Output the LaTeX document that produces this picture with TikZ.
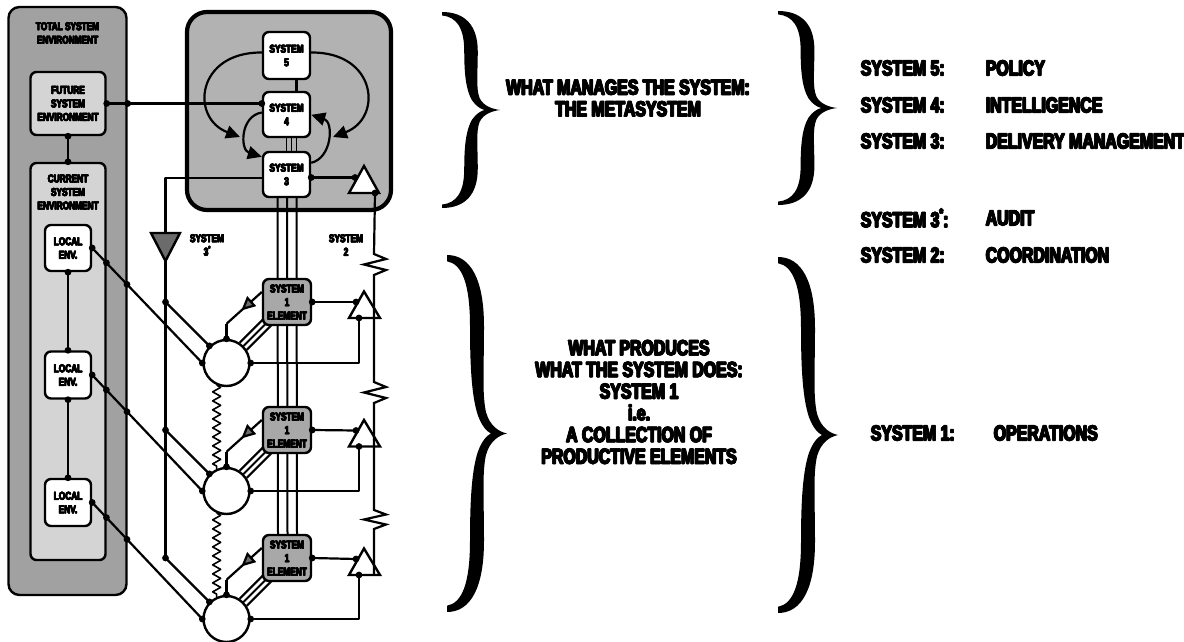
\documentclass[tikz,border=0pt]{standalone}
\usepackage{fontspec}
\newfontfamily\heavy{Liberation Sans}[FakeStretch=0.74,BoldFeatures={FakeBold=2.5}]
\usetikzlibrary{arrows.meta,calc,decorations.pathmorphing,decorations.markings}
\definecolor{envdark}{gray}{0.63}
\definecolor{envlight}{gray}{0.83}
\definecolor{metafill}{gray}{0.70}
\definecolor{opfill}{gray}{0.66}
\definecolor{auditfill}{gray}{0.42}
\newcommand{\diagfont}{\heavy\bfseries\fontsize{11.2}{13.5}\selectfont}
\newcommand{\listfont}{\heavy\bfseries\fontsize{21.5}{21.7}\selectfont}
\newcommand{\smallstar}{\raisebox{0.45em}{\scalebox{0.6}{*}}}
% heavier lettering: the line is overprinted with small offsets
\newcommand{\fat}[1]{%
  \makebox[0pt][l]{\kern0.05em#1}%
  \makebox[0pt][l]{\kern0.025em\raisebox{0.022em}{#1}}%
  \makebox[0pt][l]{\kern0.025em\raisebox{-0.022em}{#1}}%
  #1\kern0.05em}
% a right-pointing curly brace: left x, middle y, half height, width
\newcommand{\curlybrace}[4]{%
  \begin{scope}[shift={(#1,#2)},xscale=#4/60,yscale=#3/100]
    \fill (0,-100) .. controls (24,-100) and (37,-86) .. (37,-60)
      .. controls (37,-36) and (35,-22) .. (39,-12)
      .. controls (43,-4) and (52,-1) .. (60,0)
      .. controls (52,1) and (43,4) .. (39,12)
      .. controls (35,22) and (37,36) .. (37,60)
      .. controls (37,86) and (24,100) .. (0,100)
      -- (0,96.5)
      .. controls (15,95) and (23,84) .. (23,60)
      .. controls (23,36) and (25,20) .. (31,10)
      .. controls (35,4) and (40,1) .. (44,0)
      .. controls (40,-1) and (35,-4) .. (31,-10)
      .. controls (25,-20) and (23,-36) .. (23,-60)
      .. controls (23,-84) and (15,-95) .. (0,-96.5) -- cycle;
  \end{scope}}
\pgfdeclarelayer{back}
\pgfdeclarelayer{front}
\pgfsetlayers{back,main,front}
\begin{document}
\begin{tikzpicture}[x=1pt,y=-1pt,line join=round,
  ln/.style={line width=2.2pt},
  vsmbox/.style={draw,line width=2.4pt,rounded corners=6pt,inner sep=0pt,align=center,font=\diagfont},
  vsmtag/.style={inner sep=0pt,align=center,font=\diagfont},
  bigtext/.style={inner sep=0pt,align=center,font=\listfont},
  listkey/.style={inner sep=0pt,anchor=west,font=\listfont},
  opcirc/.style={circle,draw,fill=white,line width=2.4pt,minimum size=46pt,inner sep=0pt},
  amp/.style={draw,line width=2.4pt,fill=white},
  fbarrow/.style={ln,-{Triangle[length=14pt,width=13pt]}},
  inputline/.style={ln,postaction={decorate},decoration={markings,
    mark=at position 0.58 with {\arrow{Triangle[length=14pt,width=13pt,fill=auditfill]}}}},
  spring/.style={line width=1.6pt,decorate,decoration={zigzag,segment length=9pt,amplitude=4pt}},
]
\useasboundingbox (0,0) rectangle (1184,642);

% ---------- environment column and metasystem frame ----------
\begin{pgfonlayer}{back}
  \node[vsmbox,fill=envdark,rounded corners=11pt,minimum width=118pt,minimum height=588pt] (total) at (67.5,301) {};
  \node[vsmtag] (totaltitle) at (67.5,33) {\fat{TOTAL SYSTEM}\\\fat{ENVIRONMENT}};
  \node[vsmbox,fill=envlight,minimum width=75pt,minimum height=63pt] (future) at (68,103.5) {\fat{FUTURE}\\\fat{SYSTEM}\\\fat{ENVIRONMENT}};
  \node[vsmbox,fill=envlight,minimum width=75pt,minimum height=397pt] (current) at (68,361.5) {};
  \node[vsmtag] (currenttitle) at (68,192) {\fat{CURRENT}\\\fat{SYSTEM}\\\fat{ENVIRONMENT}};
  \node[vsmbox,fill=white,minimum width=46pt,minimum height=46pt] (local1) at (68,248) {\fat{LOCAL}\\\fat{ENV.}};
  \node[vsmbox,fill=white,minimum width=46pt,minimum height=47pt] (local2) at (68,375) {\fat{LOCAL}\\\fat{ENV.}};
  \node[vsmbox,fill=white,minimum width=46pt,minimum height=47pt] (local3) at (68,502.5) {\fat{LOCAL}\\\fat{ENV.}};
  \node[draw,line width=4.2pt,fill=metafill,rounded corners=20pt,minimum width=204pt,minimum height=198pt,inner sep=0pt] (meta) at (289,111) {};
\end{pgfonlayer}

% ---------- management boxes, operations and channel triangles ----------
\begin{pgfonlayer}{front}
  \node[vsmbox,fill=white,minimum width=47pt,minimum height=47pt] (s5) at (286.5,55.5) {\fat{SYSTEM}\\\fat{5}};
  \node[vsmbox,fill=white,minimum width=47pt,minimum height=45pt] (s4) at (286.5,114.5) {\fat{SYSTEM}\\\fat{4}};
  \node[vsmbox,fill=white,minimum width=47pt,minimum height=45pt] (s3) at (286.5,174.5) {\fat{SYSTEM}\\\fat{3}};
  \node[vsmbox,fill=opfill,minimum width=48pt,minimum height=46pt] (elem1) at (287,302) {\fat{SYSTEM}\\\fat{1}\\\fat{ELEMENT}};
  \node[vsmbox,fill=opfill,minimum width=48pt,minimum height=46pt] (elem2) at (287,430) {\fat{SYSTEM}\\\fat{1}\\\fat{ELEMENT}};
  \node[vsmbox,fill=opfill,minimum width=48pt,minimum height=46pt] (elem3) at (287,558) {\fat{SYSTEM}\\\fat{1}\\\fat{ELEMENT}};
  \node[opcirc] (op1) at (226.5,363) {};
  \node[opcirc] (op2) at (226.5,491) {};
  \node[opcirc] (op3) at (226.5,619) {};
  \node[vsmtag] (lab3s) at (207,245) {\fat{SYSTEM}\\\fat{3\smallstar}};
  \node[vsmtag] (lab2) at (346,245) {\fat{SYSTEM}\\\fat{2}};
  % System 3* audit triangle
  \coordinate (audbase) at (165.5,233);
  \coordinate (audapex) at (165.5,261);
  \draw[line width=2.4pt,fill=auditfill] (151,233) -- (180,233) -- (audapex) -- cycle;
  % System 2 triangles
  \draw[amp] (349,193) -- (364,166) -- (379,193) -- cycle;
  \coordinate (c2in) at (355,177.5);
  \coordinate (c2out) at (375,193);
  \foreach \i/\b in {1/318,2/446.5,3/575}{
    \draw[amp] (349,\b) -- (364,\b-26.5) -- (380,\b) -- cycle;
    \coordinate (t\i in) at (356,\b-16);
    \coordinate (t\i bot) at (359,\b);
  }
\end{pgfonlayer}

% ---------- connectors ----------
\coordinate (s3r) at ([yshift=-3pt]s3.east);
\coordinate (s3l) at ([yshift=-3.5pt]s3.west);
\coordinate (fenvtap) at (total.east |- future.east);
\coordinate (s4tap) at (future.east -| s4.west);
% environment links
\draw[ln] (future.south) -- (current.north);
\draw[ln] (local1.south) -- (local2.north);
\draw[ln] (local2.south) -- (local3.north);
\draw[ln] (future.east) -- (s4tap);
\foreach \i in {1,2,3}{
  \draw[ln] (local\i.east) -- (op\i.west);
}
% metasystem internal links
\draw[ln] ([xshift=10pt]s5.south) -- ([xshift=10pt]s4.north);
\foreach \dx in {0,5,10}{
  \draw[line width=1.8pt] ([xshift=\dx pt]s4.south) -- ([xshift=\dx pt]s3.north);
}
\foreach \dx in {-9,0.5,10}{
  \draw[line width=2pt] ([xshift=\dx pt]s3.south) -- ([xshift=\dx pt]elem3.north);
}
\draw[fbarrow] ([yshift=3pt]s5.west) .. controls (196,52) and (190,118) .. (240,137);
\draw[fbarrow] ([yshift=3pt]s5.east) .. controls (377,52) and (383,118) .. (333,137);
\draw[fbarrow] ([yshift=2pt]s4.west) .. controls (240,116) and (240,150) .. ([yshift=-6pt]s3.north west);
\draw[fbarrow] ([yshift=-12pt]s3.north east) .. controls (332,158) and (334,122) .. ([yshift=-24pt]s4.north east);
% System 3 to System 2 and System 3*
\draw[ln] (s3r) -- (c2in);
\draw[ln] (s3l) -| (audbase);
\coordinate (aud1) at (165.5,302);
\coordinate (aud2) at (165.5,430);
\coordinate (aud3) at (165.5,558);
\draw[ln] (audapex) -- (aud3);
\foreach \i in {1,2,3}{
  \draw[ln] (aud\i) -- (op\i.135);
}
% operations: springs between them
\draw[spring] (op1.-114) -- (op2.114);
\draw[spring] (op2.-114) -- (op3.114);
% operation <-> System 1 element
\foreach \i in {1,2,3}{
  \foreach \a in {33,45,57}{
    \draw[line width=2pt] (op\i.\a) -- ++(30,-30);
  }
  \coordinate (bend\i) at ($(op\i.north)+(0,-15)$);
  \draw[inputline] ([yshift=10pt]elem\i.west) -- (bend\i);
  \draw[ln] (bend\i) -- (op\i.north);
  \draw[ln] (elem\i.east) -- (t\i in);
  \draw[ln] (op\i.east) -| (t\i bot);
}

% ---------- System 2 channel and junction dots ----------
\begin{pgfonlayer}{front}
  \draw[ln] (c2out) -- (374,254) -- ++(12,5) -- ++(-22,5.5) -- ++(22,5.5) -- ++(-12,5)
    -- (374,382) -- ++(12,5) -- ++(-22,5.5) -- ++(22,5.5) -- ++(-12,5)
    -- (374,510) -- ++(12,4.5) -- ++(-22,5) -- ++(22,5) -- ++(-12,4.5) -- (374,575);
  \foreach \p in {future.south,current.north,local1.south,local2.north,local2.south,local3.north,
      future.east,fenvtap,s4tap,s3r,c2in,c2out,aud1,aud2,aud3}{
    \fill (\p) circle[radius=3.4pt];
  }
  \foreach \i in {1,2,3}{
    \fill (local\i.east) circle[radius=3.4pt];
    \fill ($(local\i.east)!0.129!(op\i.west)$) circle[radius=3.4pt];
    \fill ($(local\i.east)!0.316!(op\i.west)$) circle[radius=3.4pt];
    \foreach \a in {west,east,north,135}{
      \fill (op\i.\a) circle[radius=3.4pt];
    }
    \fill (elem\i.east) circle[radius=3.4pt];
    \fill (t\i in) circle[radius=3.4pt];
    \fill (t\i bot) circle[radius=3.4pt];
  }
\end{pgfonlayer}

% ---------- braces and descriptions ----------
\curlybrace{442}{110}{98}{58}
\curlybrace{447}{433.5}{178.5}{60}
\curlybrace{778}{108}{97}{59}
\curlybrace{778}{435}{178}{60}

\node[bigtext] (metadesc) at (628,98) {\fat{WHAT MANAGES THE SYSTEM:}\\\fat{THE METASYSTEM}};
\node[bigtext] (opsdesc) at (639,402) {\fat{WHAT PRODUCES}\\\fat{WHAT THE SYSTEM DOES:}\\\fat{SYSTEM 1}\\\fat{i.e.}\\\fat{A COLLECTION OF}\\\fat{PRODUCTIVE ELEMENTS}};

\node[listkey] (k5) at (860,68) {\fat{SYSTEM 5:}};
\node[listkey] (v5) at (985,68) {\fat{POLICY}};
\node[listkey] (k4) at (860,105) {\fat{SYSTEM 4:}};
\node[listkey] (v4) at (985,105) {\fat{INTELLIGENCE}};
\node[listkey] (k3) at (860,141) {\fat{SYSTEM 3:}};
\node[listkey] (v3) at (985,141) {\fat{DELIVERY MANAGEMENT}};
\node[listkey] (k3s) at (860,218) {\fat{SYSTEM 3\smallstar:}};
\node[listkey] (v3s) at (985,218) {\fat{AUDIT}};
\node[listkey] (k2) at (860,255) {\fat{SYSTEM 2:}};
\node[listkey] (v2) at (985,255) {\fat{COORDINATION}};
\node[listkey] (k1) at (870,433) {\fat{SYSTEM 1:}};
\node[listkey] (v1) at (993,433) {\fat{OPERATIONS}};
\end{tikzpicture}
\end{document}
